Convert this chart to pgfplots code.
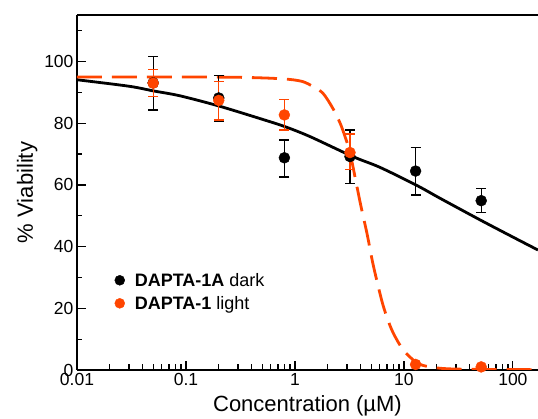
\documentclass[border=0pt]{standalone}
\usepackage{pgfplots}
\pgfplotsset{compat=1.18}
\usepackage{fontspec}
\setmainfont{Liberation Sans}
\definecolor{dorange}{RGB}{255,69,0}

% measured points: x, y, error up, error down
\pgfplotstableread{
x y ep em
0.05 93.1 8.5 8.8
0.2 88.2 7.3 7.7
0.8 68.8 5.8 6.2
3.2 69.2 8.6 8.8
12.8 64.5 7.7 7.8
51.2 54.9 3.9 3.9
}\darkdata
\pgfplotstableread{
x y ep em
0.05 93.0 4.5 4.3
0.2 87.4 6.1 6.3
0.8 82.7 5.0 4.9
3.2 70.5 6.0 5.6
12.8 1.8 0 0
51.2 1.0 0 0
}\lightdata

\begin{document}
\begin{tikzpicture}
\begin{axis}[name=ax,
  width=461pt, height=355pt, scale only axis,
  xmode=log, xmin=0.01, xmax=170, ymin=0, ymax=115.1,
  axis x line*=box, axis y line*=left, xtick pos=left,
  xtick={0.01,0.1,1,10,100}, xticklabels={0.01,0.1,1,10,100},
  ytick={0,20,...,100}, minor ytick={10,30,...,110},
  tick align=inside, major tick length=9pt, minor tick length=5.5pt,
  tick style={black, line width=1.2pt},
  axis line style={line width=1.6pt},
  /pgf/number format/assume math mode=true,
  tick label style={font=\fontsize{17.5}{21}\selectfont},
  label style={font=\fontsize{22}{26}\selectfont},
  xlabel={Concentration (µM)}, ylabel={\% Viability},
  xlabel style={yshift=-3pt},
  legend style={at={(0.075,0.285)}, anchor=north west, draw=none, fill=none,
    font=\fontsize{18}{22}\selectfont, row sep=4.5pt},
  legend cell align=left,
  error bars/error bar style={line width=1.3pt},
  error bars/error mark options={rotate=90, mark size=5pt, line width=1.3pt},
]
\addlegendimage{only marks, mark=*, mark size=5pt, black}
\addlegendentry{\hspace{8pt}\textbf{DAPTA-1A} dark}
\addlegendimage{only marks, mark=*, mark size=5pt, dorange}
\addlegendentry{\hspace{8pt}\textbf{DAPTA-1} light}

\addplot[forget plot, black, line width=2.8pt, smooth] coordinates {
(0.01,94.1) (0.03,92.0) (0.05,90.5) (0.088,88.9) (0.2,85.6) (0.5,81.3)
(0.81,78.9) (1.37,75.7) (3.4,69.2) (6.03,65.7) (13.2,59.8) (21.4,55.7)
(49.8,48.7) (100,43.1) (170,38.9)};

\addplot[forget plot, dorange, line width=2.8pt, smooth, dash pattern=on 25pt off 10pt] coordinates {
(0.01,95.0) (0.1,95.0) (0.3,94.9) (0.6,94.6) (0.9,94.2) (1.18,93.5)
(1.45,92.0) (1.81,89.7) (2.23,84.8) (2.6,80.0) (2.88,75.7) (3.2,70.5)
(3.68,60.0) (4.04,53.0) (4.6,44.0) (5.23,34.0) (6.24,22.7) (7.0,17.0)
(7.98,12.0) (9.86,6.5) (13.1,2.4) (17.3,1.0) (30,0.3) (170,0.1)};

\addplot[forget plot, only marks, mark=*, mark size=5.5pt, black,
  error bars/.cd, y dir=both, y explicit]
  table[x=x, y=y, y error plus=ep, y error minus=em] {\darkdata};
\addplot[forget plot, only marks, mark=*, mark size=5.5pt, dorange,
  error bars/.cd, y dir=both, y explicit]
  table[x=x, y=y, y error plus=ep, y error minus=em] {\lightdata};
\end{axis}
\pgfresetboundingbox
\path ([shift={(-77pt,-49pt)}]ax.south west) rectangle ([shift={(0pt,15pt)}]ax.north east);
\end{tikzpicture}
\end{document}
